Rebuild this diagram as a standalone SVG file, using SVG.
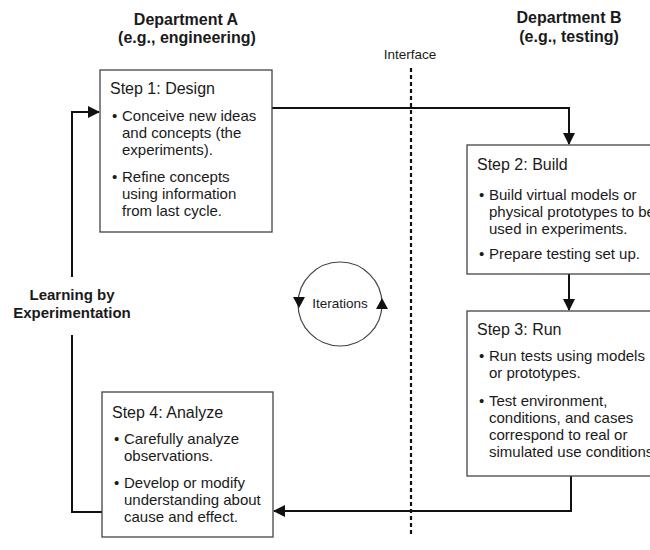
<svg xmlns="http://www.w3.org/2000/svg" width="650" height="550" viewBox="0 0 650 550">
<defs>
<style>
.bg{fill:#fff}
.box{fill:#fff;stroke:#444;stroke-width:1.3}
.t{font-family:"Liberation Sans",Arial,Helvetica,sans-serif;fill:#1a1a1a}
.h{font-size:16px;font-weight:bold;text-anchor:middle}
.st{font-size:16px}
.b{font-size:15px}
.sm{font-size:13.5px}
.con{fill:none;stroke:#111;stroke-width:2}
.dot{fill:none;stroke:#111;stroke-width:2.2;stroke-dasharray:4 3}
</style>
<marker id="ah" markerWidth="12" markerHeight="12" viewBox="0 0 12 12" refX="11" refY="6" orient="auto" markerUnits="userSpaceOnUse">
<path d="M0,0 L12,6 L0,12 z" fill="#111"/>
</marker>
</defs>
<rect class="bg" x="0" y="0" width="650" height="550"/>

<g id="headers">
<text class="t h" x="186" y="25">Department A</text>
<text class="t h" x="187" y="43">(e.g., engineering)</text>
<text class="t h" x="569" y="23">Department B</text>
<text class="t h" x="569" y="42">(e.g., testing)</text>
<text class="t sm" x="410" y="59" text-anchor="middle">Interface</text>
</g>

<g id="interface">
<line class="dot" x1="411" y1="68" x2="411" y2="534"/>
</g>

<g id="connectors">
<polyline class="con" points="272,108 569,108 569,144" marker-end="url(#ah)"/>
<polyline class="con" points="569,274 569,310" marker-end="url(#ah)"/>
<polyline class="con" points="571,476 571,511 274,511" marker-end="url(#ah)"/>
<polyline class="con" points="102,512 72,512 72,335"/>
<polyline class="con" points="72,277 72,112 99,112" marker-end="url(#ah)"/>
</g>

<g id="learning">
<text class="t" x="72" y="300" font-size="15" font-weight="bold" text-anchor="middle">Learning by</text>
<text class="t" x="72" y="318" font-size="15" font-weight="bold" text-anchor="middle">Experimentation</text>
</g>

<g id="iterations">
<circle cx="340" cy="304" r="42" fill="none" stroke="#444" stroke-width="1.2"/>
<path d="M293,297 L305,297 L299,308 z" fill="#111"/>
<path d="M376,309 L388,309 L382,298 z" fill="#111"/>
<text class="t sm" x="340" y="308" text-anchor="middle">Iterations</text>
</g>

<g id="step1">
<rect class="box" x="100" y="70" width="172" height="162"/>
<text class="t st" x="110" y="94">Step 1: Design</text>
<text class="t b" x="112" y="121">•</text>
<text class="t b" x="122" y="121">Conceive new ideas</text>
<text class="t b" x="122" y="138">and concepts (the</text>
<text class="t b" x="122" y="155">experiments).</text>
<text class="t b" x="112" y="182">•</text>
<text class="t b" x="122" y="182">Refine concepts</text>
<text class="t b" x="122" y="199">using information</text>
<text class="t b" x="122" y="216">from last cycle.</text>
</g>

<g id="step2">
<rect class="box" x="467" y="145" width="240" height="129"/>
<text class="t st" x="477" y="170">Step 2: Build</text>
<text class="t b" x="479" y="200">•</text>
<text class="t b" x="489" y="200">Build virtual models or</text>
<text class="t b" x="489" y="217">physical prototypes to be</text>
<text class="t b" x="489" y="234">used in experiments.</text>
<text class="t b" x="479" y="259">•</text>
<text class="t b" x="489" y="259">Prepare testing set up.</text>
</g>

<g id="step3">
<rect class="box" x="467" y="311" width="240" height="165"/>
<text class="t st" x="477" y="335">Step 3: Run</text>
<text class="t b" x="479" y="361">•</text>
<text class="t b" x="489" y="361">Run tests using models</text>
<text class="t b" x="489" y="378">or prototypes.</text>
<text class="t b" x="479" y="406">•</text>
<text class="t b" x="489" y="406">Test environment,</text>
<text class="t b" x="489" y="423">conditions, and cases</text>
<text class="t b" x="489" y="440">correspond to real or</text>
<text class="t b" x="489" y="457">simulated use conditions.</text>
</g>

<g id="step4">
<rect class="box" x="102" y="392" width="171" height="145"/>
<text class="t st" x="112" y="418">Step 4: Analyze</text>
<text class="t b" x="114" y="444">•</text>
<text class="t b" x="124" y="444">Carefully analyze</text>
<text class="t b" x="124" y="461">observations.</text>
<text class="t b" x="114" y="488">•</text>
<text class="t b" x="124" y="488">Develop or modify</text>
<text class="t b" x="124" y="505">understanding about</text>
<text class="t b" x="124" y="522">cause and effect.</text>
</g>
</svg>
